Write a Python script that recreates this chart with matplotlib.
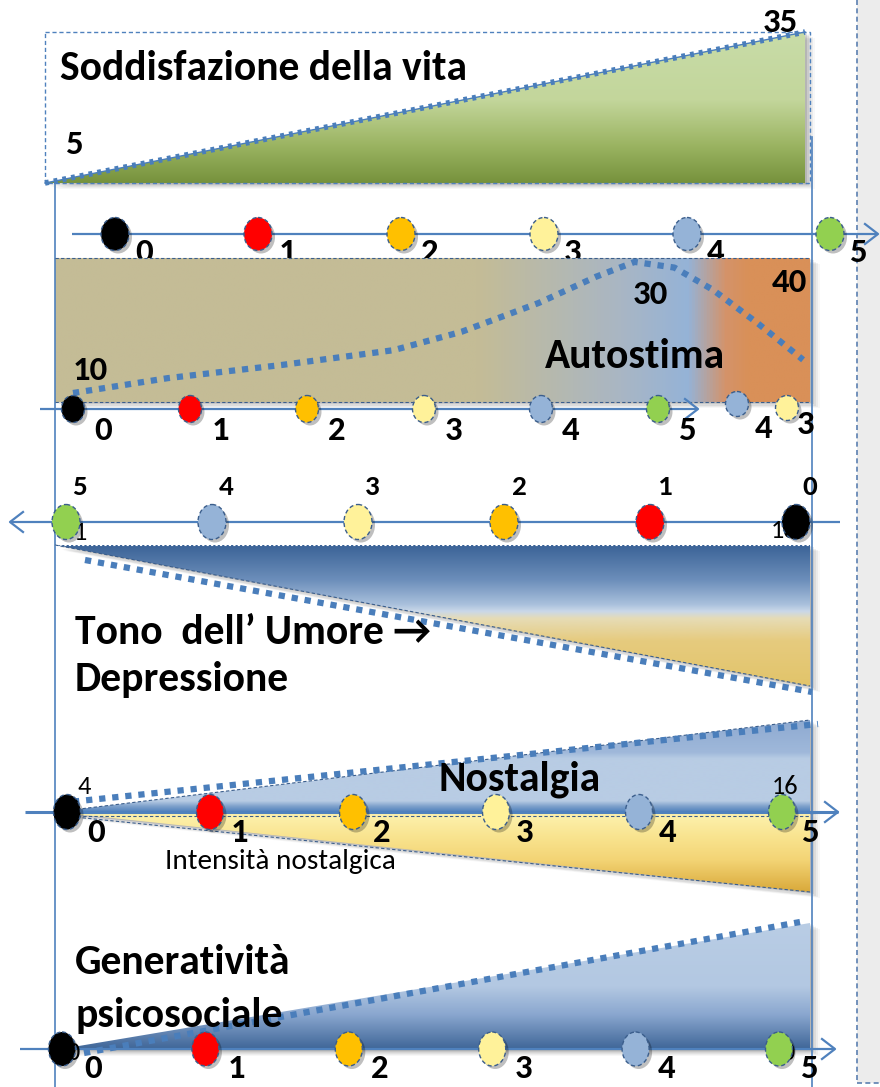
import numpy as np
import matplotlib
matplotlib.use('Agg')
import matplotlib.pyplot as plt
from matplotlib import font_manager
from matplotlib.patches import Polygon, Ellipse, Rectangle
from matplotlib.colors import LinearSegmentedColormap

# pick a narrow bold-capable family (Calibri-like)
_cands = ['Carlito', 'Liberation Sans Narrow', 'Open Sans', 'Noto Sans', 'Roboto', 'Lato']
_bold = {}
for f in font_manager.fontManager.ttflist:
    w = f.weight if isinstance(f.weight, int) else 700 if 'bold' in str(f.weight).lower() else 400
    if w >= 600:
        _bold[f.name] = True
FAMILY = next((c for c in _cands if c in _bold), 'DejaVu Sans')
plt.rcParams['font.family'] = [FAMILY, 'DejaVu Sans']

# ---------------- data ----------------
levels = ['0', '1', '2', '3', '4', '5']
level_colors = ['#000000', '#ff0000', '#ffc000', '#fff29a', '#95b3d7', '#92d050']

satisfaction_title = 'Soddisfazione della vita'
satisfaction_range = [5, 35]

autostima_title = 'Autostima'
autostima_extra_levels = ['4', '3']
autostima_extra_colors = ['#95b3d7', '#fff29a']
autostima_curve_pos = [0, 0.81, 1.78, 2.74, 3.32, 3.98, 4.47, 4.80, 5.14, 5.47, 5.85, 6.24]
autostima_curve_val = [10, 13.4, 16.4, 19.8, 24.0, 30.6, 36.6, 40.0, 38.7, 33.6, 26.0, 17.6]
autostima_labels = ['10', '30', '40']

mood_title = ['Tono  dell\u2019 Umore \u2192', 'Depressione']
mood_small = ['1', '10']

nostalgia_title = 'Nostalgia'
nostalgia_sub = 'Intensit\u00e0 nostalgica'
nostalgia_range = [4, 16]

generativity_title = ['Generativit\u00e0', 'psicosociale']
generativity_small = ['0', '0']

# ---------------- layout helpers ----------------
BLUE = '#4f81bd'
DOT = '#4a7ebb'
TITLE = 30
DIG = 25
SMALL = 19

fig = plt.figure(figsize=(8.8, 10.87), dpi=100)
ax = fig.add_axes([0, 0, 1, 1])


def shadow(verts, z=1):
    for k, a in [(2, 0.10), (4, 0.08), (6, 0.06), (8, 0.05), (10, 0.03)]:
        ax.add_patch(Polygon([(x + k, y + k * 0.6) for x, y in verts], closed=True,
                             fc='#000000', ec='none', alpha=a, zorder=z))


def gradient(verts, colors, stops, vertical=True, z=2):
    poly = Polygon(verts, closed=True, fc='none', ec='none', zorder=z)
    ax.add_patch(poly)
    cmap = LinearSegmentedColormap.from_list('g', list(zip(stops, colors)))
    xs = [v[0] for v in verts]
    ys = [v[1] for v in verts]
    g = np.linspace(0, 1, 512)
    arr = g.reshape(-1, 1) if vertical else g.reshape(1, -1)
    im = ax.imshow(arr, cmap=cmap, extent=(min(xs), max(xs), max(ys), min(ys)),
                   origin='upper', aspect='auto', interpolation='bilinear', zorder=z)
    im.set_clip_path(poly)


def marker(x, y, color, w, h):
    ax.add_patch(Ellipse((x + 3, y + 3), w, h, fc='#000000', ec='none', alpha=0.25, zorder=5))
    ax.add_patch(Ellipse((x, y), w, h, fc=color, ec='#3b5e8c', ls=(0, (3, 2)), lw=1.0, zorder=6))


def axis_line(x0, x1, y, right=True, lw=1.6):
    ax.plot([x0, x1], [y, y], color=BLUE, lw=lw, zorder=4, solid_capstyle='butt')
    tip = x1 if right else x0
    s = -1 if right else 1
    ax.plot([tip + s * 13, tip, tip + s * 13], [y - 10, y, y + 10], color=BLUE, lw=1.6, zorder=4)


def label(x, y, t, size=DIG, bold=True, ha='center', color='black', z=10):
    ax.text(x, y, t, fontsize=size, fontweight='bold' if bold else 'normal', ha=ha,
            va='center', color=color, zorder=z)


# ---------------- right strip and frame ----------------
ax.add_patch(Rectangle((857, 0), 23, 1083, fc='#ececec', ec='none', zorder=0))
ax.plot([857, 857], [0, 1083], color='#5b7fb0', lw=1.2, ls=(0, (3, 2)), zorder=1)
ax.plot([857, 880], [1083, 1083], color='#5b7fb0', lw=1.2, ls=(0, (3, 2)), zorder=1)
ax.plot([55, 55], [183, 1087], color=BLUE, lw=1.2, zorder=3)
ax.plot([812, 812], [137, 1087], color=BLUE, lw=1.2, zorder=3)

# ---------------- panel 1: Soddisfazione della vita ----------------
p1_left, p1_right, p1_top, p1_bot = 45, 805, 32, 183
s_lo, s_hi = satisfaction_range
def sat_y(v):
    return p1_bot - (v - s_lo) / (s_hi - s_lo) * (p1_bot - p1_top)
tri1 = [(p1_left, sat_y(s_lo)), (p1_right, sat_y(s_hi)), (p1_right, p1_bot)]
shadow(tri1)
gradient(tri1, ['#c8dca8', '#c3d69b', '#9bb462', '#76923c'], [0, 0.45, 0.75, 1])
ax.add_patch(Rectangle((p1_left, p1_top), 765, p1_bot - p1_top, fill=False, ec=BLUE,
                       ls=(0, (3, 2)), lw=1, zorder=3))
ax.plot([p1_left, p1_right], [sat_y(s_lo), sat_y(s_hi)], color=DOT, lw=1, zorder=4)
ax.plot([p1_left, p1_right], [sat_y(s_lo), sat_y(s_hi)], color=DOT, lw=4,
        ls=(0, (0.7, 0.9)), zorder=4)
label(60, 68, satisfaction_title, size=TITLE, ha='left')
label(75, 145, str(s_lo))
label(780, 23, str(s_hi))

# axis 1 (labels sit partly behind the Autostima band, as in the original)
a1_y, a1_x0, a1_dx = 234, 115, 143
axis_line(72, 878, a1_y)
for i, (t, c) in enumerate(zip(levels, level_colors)):
    x = a1_x0 + i * a1_dx
    marker(x, a1_y, c, 28, 33)
    label(x + 29, a1_y + 18, t, z=1.5)

# ---------------- panel 2: Autostima ----------------
p2_top, p2_bot = 258, 402
band = [(55, p2_top), (810, p2_top), (810, p2_bot), (55, p2_bot)]
shadow(band)
gradient(band, ['#c4bc96', '#c4bc96', '#a9b6c4', '#95b3d7', '#d4936a', '#d99058', '#d99058'],
         [0, 0.56, 0.75, 0.84, 0.89, 0.92, 1], vertical=False)
ax.plot([55, 810], [p2_top, p2_top], color='#3b5e8c', lw=0.8, ls=(0, (3, 2)), zorder=3)
ax.plot([55, 810], [p2_bot, p2_bot], color='#3b5e8c', lw=0.8, ls=(0, (3, 2)), zorder=3)
a2_y, a2_x0, a2_dx = 409, 73, 117
curve_x = [a2_x0 + p * a2_dx for p in autostima_curve_pos]
curve_y = [393 - (v - 10) * 4.37 for v in autostima_curve_val]
ax.plot(curve_x, curve_y, color=DOT, lw=4.5, ls=(0, (1, 1.1)), zorder=4)
label(90, 370, autostima_labels[0])
label(650, 294, autostima_labels[1])
label(789, 283, autostima_labels[2])
label(635, 357, autostima_title, size=TITLE)

axis_line(40, 698, a2_y)
for i, (t, c) in enumerate(zip(levels, level_colors)):
    x = a2_x0 + i * a2_dx
    marker(x, a2_y, c, 23, 27)
    label(x + 30, a2_y + 22, t)
for (x, y, lx, ly), t, c in zip([(737, 404, 764, 428), (787, 408, 806, 425)],
                                autostima_extra_levels, autostima_extra_colors):
    marker(x, y, c, 23, 25)
    label(lx, ly, t)

# ---------------- panel 3: Tono dell'umore ----------------
a3_y, a3_x0, a3_dx = 522, 796, -146
axis_line(10, 840, a3_y, right=False)
label(80, 532, mood_small[0], size=SMALL, bold=False, z=5)
label(784, 531, mood_small[1], size=SMALL, bold=False, z=5)
for i, (t, c) in enumerate(zip(levels, level_colors)):
    x = a3_x0 + i * a3_dx
    marker(x, a3_y, c, 28, 35)
    label(x + 14, a3_y - 35, t, size=21)

tri3 = [(55, 545), (810, 545), (810, 686)]
shadow(tri3)
gradient(tri3, ['#3b6397', '#6d8fbb', '#a9c0dc', '#cad8e9', '#e6dcb6', '#e6cb7e', '#e2c46a'],
         [0, 0.25, 0.42, 0.47, 0.52, 0.68, 1])
ax.plot([55, 810], [545, 545], color='white', lw=0.8, ls=(0, (2, 2)), zorder=3)
ax.plot([55, 810], [545, 686], color='#3b5e8c', lw=0.8, ls=(0, (3, 2)), zorder=3)
ax.plot([85, 812], [560, 692], color=DOT, lw=4.5, ls=(0, (1, 1.1)), zorder=4)
label(75, 632, mood_title[0], size=TITLE, ha='left')
label(75, 680, mood_title[1], size=TITLE, ha='left')

# ---------------- panel 4: Nostalgia ----------------
a4_y, a4_x0, a4_dx = 812, 67, 143
tri4a = [(55, a4_y), (810, 720), (810, a4_y)]
tri4b = [(55, a4_y), (810, a4_y), (810, 892)]
shadow(tri4a)
shadow(tri4b)
gradient(tri4a, ['#8eaad1', '#9fb8da', '#b8cce4', '#b8cce4', '#7da0cb', '#4f81bd'],
         [0, 0.35, 0.42, 0.88, 0.94, 1])
gradient(tri4b, ['#fdf3b0', '#f9e490', '#f3d475', '#d9a93a'], [0, 0.3, 0.6, 1])
ax.plot([55, 810], [a4_y, 720], color='#3b5e8c', lw=0.8, ls=(0, (3, 2)), zorder=3)
ax.plot([55, 810], [a4_y + 3, 892], color='#3b5e8c', lw=0.8, ls=(0, (3, 2)), zorder=3)
ax.plot([55, 810], [a4_y + 4, a4_y + 4], color='#3b5e8c', lw=0.8, ls=(0, (3, 2)), zorder=3)
ax.plot([60, 818], [803, 724], color=DOT, lw=4.5, ls=(0, (1, 1.1)), zorder=4)
axis_line(25, 838, a4_y, lw=2.2)
for i, (t, c) in enumerate(zip(levels, level_colors)):
    x = a4_x0 + i * a4_dx
    marker(x, a4_y, c, 27, 35)
    label(x + 29, a4_y + 20, t)
label(84, 786, str(nostalgia_range[0]), size=SMALL, bold=False)
label(785, 787, str(nostalgia_range[1]), size=SMALL, bold=False)
label(520, 779, nostalgia_title, size=TITLE)
label(280, 862, nostalgia_sub, size=21, bold=False)

# ---------------- panel 5: Generativita ----------------
a5_y, a5_x0, a5_dx = 1049, 62, 143.4
tri5 = [(55, 1050), (810, 923), (810, 1050)]
shadow(tri5)
gradient(tri5, ['#b9cde5', '#b3c8e2', '#8aa7cf', '#3d6496'], [0, 0.5, 0.72, 1])
ax.plot([84, 800], [1053, 922], color=DOT, lw=4.5, ls=(0, (1, 1.1)), zorder=4)
axis_line(20, 835, a5_y)
label(73, 1053, generativity_small[0], size=SMALL, bold=False, z=5)
label(788, 1053, generativity_small[1], size=SMALL, bold=False, z=5)
for i, (t, c) in enumerate(zip(levels, level_colors)):
    x = a5_x0 + i * a5_dx
    marker(x, a5_y, c, 27, 34)
    label(x + 31, a5_y + 19, t)
label(75, 962, generativity_title[0], size=TITLE, ha='left')
label(75, 1015, generativity_title[1], size=TITLE, ha='left')

ax.set_xlim(0, 880)
ax.set_ylim(1087, 0)
ax.axis('off')
fig.savefig('out.png', dpi=100)
